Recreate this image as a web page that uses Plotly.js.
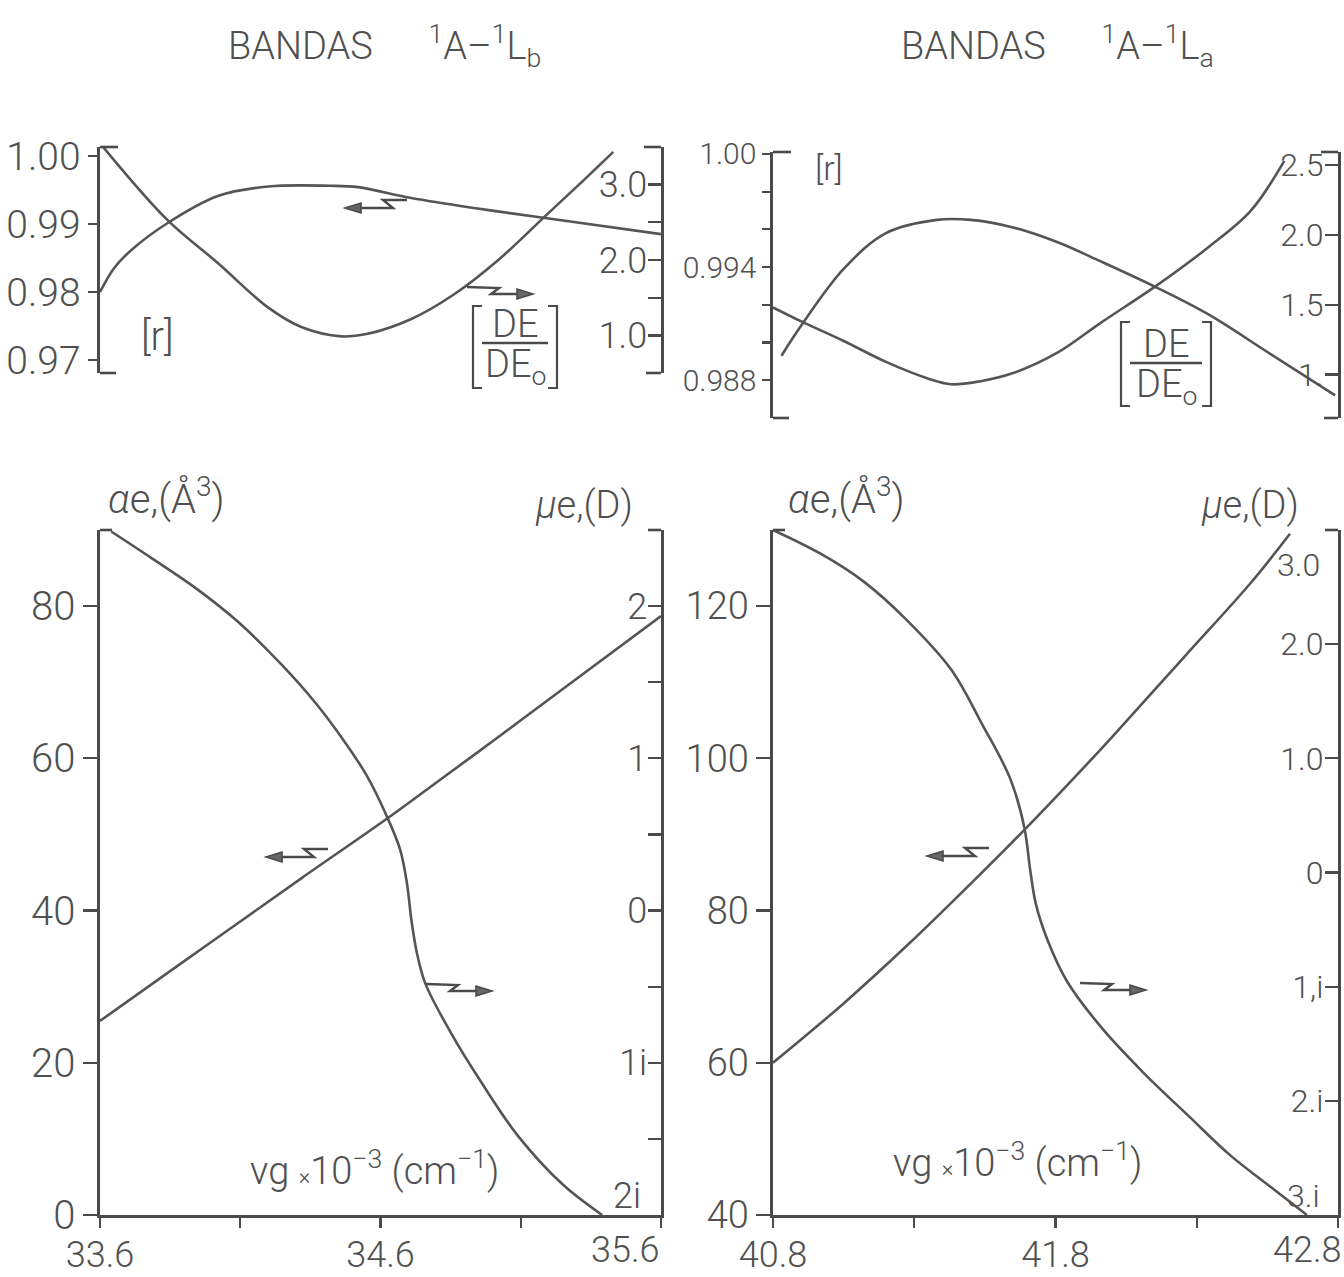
<!DOCTYPE html>
<html>
<head>
<meta charset="utf-8">
<script src="https://cdn.plot.ly/plotly-3.0.1.min.js"></script>
<style>
  html, body { margin: 0; padding: 0; background: #ffffff; }
  #chart { width: 1344px; height: 1277px; }
</style>
</head>
<body>
<div id="chart"></div>
<script>
// ---- Banda 1A-1Lb (nu_g in 10^3 cm^-1) ----
const lbRX   = [33.60, 33.65, 33.71, 33.84, 34.02, 34.20, 34.42, 34.52, 34.71, 34.94, 35.20, 35.60];
const lbR    = [0.9800, 0.9835, 0.9861, 0.9901, 0.9941, 0.9955, 0.9956, 0.9954, 0.9938, 0.9923, 0.9908, 0.9885];
const lbDEX  = [33.61, 33.84, 34.02, 34.20, 34.32, 34.46, 34.55, 34.71, 34.86, 35.02, 35.19, 35.32, 35.43];
const lbDE   = [3.50, 2.53, 1.96, 1.37, 1.11, 0.99, 1.02, 1.22, 1.54, 2.00, 2.59, 3.04, 3.43];
const lbAlphaX = [33.60, 33.86, 34.09, 34.32, 34.62, 34.78, 35.02, 35.25, 35.60];
const lbAlpha  = [25.5, 32.3, 38.3, 44.3, 52.0, 56.3, 62.8, 69.1, 78.7];
const lbMuX  = [33.64, 33.78, 33.94, 34.09, 34.25, 34.37, 34.46, 34.55, 34.62, 34.67, 34.695, 34.71, 34.73, 34.76, 34.85, 34.96, 35.09, 35.25, 35.39];
const lbMu   = [2.49, 2.32, 2.12, 1.90, 1.61, 1.36, 1.14, 0.89, 0.63, 0.40, 0.17, -0.06, -0.28, -0.48, -0.80, -1.13, -1.48, -1.80, -2.00];

// ---- Banda 1A-1La ----
const laRX   = [40.83, 40.90, 41.05, 41.20, 41.38, 41.50, 41.65, 41.81, 41.96, 42.16, 42.34, 42.56, 42.79];
const laR    = [0.9893, 0.9909, 0.9939, 0.9958, 0.9965, 0.9965, 0.9961, 0.9953, 0.9943, 0.9929, 0.9915, 0.9894, 0.9872];
const laDEX  = [40.80, 40.90, 41.05, 41.20, 41.35, 41.43, 41.53, 41.65, 41.81, 41.96, 42.16, 42.34, 42.49, 42.61];
const laDE   = [1.48, 1.38, 1.24, 1.09, 0.97, 0.93, 0.95, 1.01, 1.16, 1.37, 1.64, 1.91, 2.17, 2.53];
const laAlphaX = [40.80, 41.05, 41.28, 41.51, 41.69, 41.86, 42.00, 42.26, 42.49, 42.63];
const laAlpha  = [60.0, 67.8, 75.6, 83.9, 90.6, 97.2, 102.8, 113.5, 123.0, 129.5];
const laMuX  = [40.80, 40.97, 41.12, 41.27, 41.43, 41.54, 41.64, 41.69, 41.71, 41.73, 41.77, 41.84, 41.96, 42.11, 42.27, 42.42, 42.57, 42.69];
const laMu   = [3.00, 2.79, 2.55, 2.22, 1.78, 1.30, 0.82, 0.39, 0.03, -0.27, -0.58, -0.95, -1.35, -1.75, -2.13, -2.48, -2.77, -3.00];

// ---- tick labels ----
const lbNuTicks = [33.6, 34.1, 34.6, 35.1, 35.6];
const lbNuText  = ['33.6', '', '34.6', '', '35.6'];
const laNuTicks = [40.8, 41.3, 41.8, 42.3, 42.8];
const laNuText  = ['40.8', '', '41.8', '', '42.8'];
const lbRTicks  = [0.97, 0.98, 0.99, 1.00];
const lbRText   = ['0.97', '0.98', '0.99', '1.00'];
const lbDETicks = [1.0, 1.5, 2.0, 2.5, 3.0];
const lbDEText  = ['1.0', '', '2.0', '', '3.0'];
const laRTicks  = [0.988, 0.990, 0.992, 0.994, 0.996, 0.998, 1.000];
const laRText   = ['0.988', '', '', '0.994', '', '', '1.00'];
const laDETicks = [1.0, 1.5, 2.0, 2.5];
const laDEText  = ['1.', '1.5', '2.0', '2.5'];
const lbAlphaTicks = [0, 20, 40, 60, 80];
const lbAlphaText  = ['0', '20', '40', '60', '80'];
const lbMuTicks = [-2, -1.5, -1, -0.5, 0, 0.5, 1, 1.5, 2];
const lbMuText  = ['2i', '', '1i', '', '0', '', '1', '', '2'];
const laAlphaTicks = [40, 60, 80, 100, 120];
const laAlphaText  = ['40', '60', '80', '100', '120'];
const laMuTicks = [-3, -2, -1, 0, 1, 2, 3];
const laMuText  = ['3.i', '2.i', '1,i', '0', '1.0', '2.0', '3.0'];

// ---- page geometry (pixels) ----
const W = 1344, H = 1277;
const INK = '#4a4a4a';
const TXT = '#505050';
const FONT = 'Roboto, "Liberation Sans", Arial, sans-serif';
const px = v => v / W;
const py = v => 1 - v / H;

const LEFT_X  = [100, 661];
const RIGHT_X = [773, 1338];
const TL_Y = [147, 373];
const TR_Y = [152, 418];
const BOT_Y = [530, 1215];

const dom = (a) => [px(a[0]), px(a[1])];
const domY = (a) => [py(a[1]), py(a[0])];

function curve(x, y, xa, ya) {
  return {
    x: x, y: y, xaxis: xa, yaxis: ya, type: 'scatter', mode: 'lines',
    line: { color: '#555555', width: 2.6, shape: 'spline', smoothing: 1.0 },
    hoverinfo: 'skip', showlegend: false
  };
}

const traces = [
  curve(lbRX, lbR, 'x', 'y'),
  curve(lbDEX, lbDE, 'x', 'y2'),
  curve(lbAlphaX, lbAlpha, 'x2', 'y3'),
  curve(lbMuX, lbMu, 'x2', 'y4'),
  curve(laRX, laR, 'x3', 'y5'),
  curve(laDEX, laDE, 'x3', 'y6'),
  curve(laAlphaX, laAlpha, 'x4', 'y7'),
  curve(laMuX, laMu, 'x4', 'y8')
];

// tick label lists with the end labels that are placed by hand left blank
const blankAt = (arr, i) => arr.map((t, k) => (k === i ? '' : t));

function yLeft(domain, range, tv, tt, size, anchor, len) {
  return {
    domain: domY(domain), range: range, anchor: anchor,
    tickmode: 'array', tickvals: tv, ticktext: tt,
    ticks: 'outside', ticklen: len || 12, tickwidth: 2.2, tickcolor: INK,
    ticklabeloverflow: 'allow',
    showline: true, linecolor: INK, linewidth: 2.6,
    showgrid: false, zeroline: false,
    tickfont: { family: FONT, size: size, color: TXT, weight: 300 }
  };
}
function yRight(domain, range, tv, tt, size, anchor, over) {
  return {
    domain: domY(domain), range: range, anchor: anchor, overlaying: over, side: 'right',
    tickmode: 'array', tickvals: tv, ticktext: tt,
    ticks: 'inside', ticklen: 13, tickwidth: 2.2, tickcolor: INK,
    ticklabelposition: 'inside', ticklabeloverflow: 'allow', ticklabelstandoff: 5,
    showline: true, linecolor: INK, linewidth: 2.6,
    showgrid: false, zeroline: false,
    tickfont: { family: FONT, size: size, color: TXT, weight: 300 }
  };
}
function xHidden(domain, range, anchor) {
  return { domain: dom(domain), range: range, anchor: anchor, visible: false };
}
function xBottom(domain, range, tv, tt, anchor) {
  return {
    domain: dom(domain), range: range, anchor: anchor,
    tickmode: 'array', tickvals: tv, ticktext: tt,
    ticks: 'outside', ticklen: 10, tickwidth: 2.2, tickcolor: INK,
    ticklabeloverflow: 'allow', ticklabelstandoff: -4,
    showline: true, linecolor: INK, linewidth: 3,
    showgrid: false, zeroline: false,
    tickfont: { family: FONT, size: 36, color: TXT, weight: 300 }
  };
}

// bracket ends, zigzag arrows and the DE/DEo bracket labels
const shapes = [];
function seg(x0, y0, x1, y1, w) {
  shapes.push({ type: 'line', xref: 'paper', yref: 'paper',
    x0: px(x0), y0: py(y0), x1: px(x1), y1: py(y1),
    line: { color: INK, width: w || 2.6 } });
}
function poly(pts, closed, fill, w) {
  const d = 'M ' + pts.map(p => px(p[0]).toFixed(5) + ',' + py(p[1]).toFixed(5)).join(' L ') + (closed ? ' Z' : '');
  shapes.push({ type: 'path', xref: 'paper', yref: 'paper', path: d,
    line: { color: INK, width: w || 2 }, fillcolor: fill || 'rgba(0,0,0,0)' });
}
function arrowLeft(tx, ty) {
  poly([[tx + 62, ty - 8], [tx + 38, ty - 8], [tx + 48, ty], [tx + 12, ty]], false, null, 2.4);
  poly([[tx, ty], [tx + 16, ty - 5], [tx + 16, ty + 5]], true, '#666666', 1.6);
}
function arrowRight(tx, ty) {
  poly([[tx - 66, ty - 7], [tx - 34, ty - 6], [tx - 42, ty], [tx - 12, ty]], false, null, 2.4);
  poly([[tx, ty], [tx - 16, ty - 5], [tx - 16, ty + 5]], true, '#666666', 1.6);
}
function fracBracket(x0, x1, y0, y1, ybar) {
  poly([[x0 + 9, y0], [x0, y0], [x0, y1], [x0 + 9, y1]], false, null, 2.2);
  poly([[x1 - 9, y0], [x1, y0], [x1, y1], [x1 - 9, y1]], false, null, 2.2);
  seg(x0 + 9, ybar, x1 - 9, ybar, 2.4);
}

// top-left panel brackets
seg(100, 147, 118, 147); seg(100, 373, 116, 373);
seg(644, 147, 661, 147); seg(646, 373, 661, 373);
// top-right panel brackets
seg(773, 152, 791, 152); seg(773, 418, 789, 418);
seg(1321, 152, 1338, 152); seg(1324, 418, 1338, 418);
// lower panels top ends
seg(100, 530, 112, 530); seg(648, 530, 661, 530);
seg(773, 530, 785, 530); seg(1325, 530, 1338, 530);

arrowLeft(345, 208);  arrowRight(533, 294);
arrowLeft(266, 857);  arrowRight(492, 991);
arrowLeft(927, 856);  arrowRight(1146, 990);

fracBracket(473, 557, 306, 388, 343);
fracBracket(1121, 1211, 322, 406, 363);

function note(text, x, y, size, xanchor) {
  return { text: text, xref: 'paper', yref: 'paper', x: px(x), y: py(y),
    xanchor: xanchor || 'center', yanchor: 'middle', showarrow: false,
    font: { family: FONT, size: size, color: TXT, weight: 300 } };
}
const NB = '\u00A0';
const GAP = NB.repeat(6);
const annotations = [
  note('BANDAS' + GAP + '<sup>1</sup>A\u2013<sup>1</sup>L<sub>b</sub>', 384, 46, 38),
  note('BANDAS' + GAP + '<sup>1</sup>A\u2013<sup>1</sup>L<sub>a</sub>', 1057, 46, 38),
  note('[r]', 157, 336, 40),
  note('[r]', 829, 168, 34),
  note('DE', 515, 324, 38),
  note('DE<sub>o</sub>', 515, 366, 38),
  note('DE', 1166, 344, 38),
  note('DE<sub>o</sub>', 1166, 386, 38),
  note('<i>α</i>e,(Å<sup>3</sup>)', 166, 496, 40),
  note('<i>μ</i>e,(D)', 584, 505, 38),
  note('<i>α</i>e,(Å<sup>3</sup>)', 846, 496, 40),
  note('<i>μ</i>e,(D)', 1250, 505, 38),
  note('νg <span style="font-size:22px">×</span>10<sup>−3</sup> (cm<sup>−1</sup>)', 374, 1168, 38),
  note('νg <span style="font-size:22px">×</span>10<sup>−3</sup> (cm<sup>−1</sup>)', 1017, 1160, 38),
  // end labels sitting inside the corners
  note(lbNuText[4], 662, 1250, 36, 'right'),
  note(laNuText[4], 1344, 1250, 36, 'right'),
  note(lbMuText[0], 643, 1196, 36, 'right'),
  note(laMuText[0], 1322, 1196, 32, 'right'),
  note(laMuText[6], 1322, 565, 32, 'right')
];

const layout = {
  width: W, height: H,
  margin: { l: 0, r: 0, t: 0, b: 0, pad: 0 },
  paper_bgcolor: '#ffffff', plot_bgcolor: 'rgba(0,0,0,0)',
  showlegend: false,
  xaxis:  xHidden(LEFT_X, [33.6, 35.6], 'y'),
  yaxis:  yLeft(TL_Y, [0.9681, 1.0013], lbRTicks, lbRText, 39, 'x', 9),
  yaxis2: yRight(TL_Y, [0.505, 3.495], lbDETicks, lbDEText, 36, 'x', 'y'),
  xaxis2: xBottom(LEFT_X, [33.6, 35.6], lbNuTicks, blankAt(lbNuText, 4), 'y3'),
  yaxis3: yLeft(BOT_Y, [0, 90], lbAlphaTicks, lbAlphaText, 40, 'x2', 14),
  yaxis4: yRight(BOT_Y, [-2, 2.5], lbMuTicks, blankAt(lbMuText, 0), 36, 'x2', 'y3'),
  xaxis3: xHidden(RIGHT_X, [40.8, 42.8], 'y5'),
  yaxis5: yLeft(TR_Y, [0.9860, 1.0001], laRTicks, laRText, 30, 'x3', 8),
  yaxis6: yRight(TR_Y, [0.688, 2.594], laDETicks, laDEText, 32, 'x3', 'y5'),
  xaxis4: xBottom(RIGHT_X, [40.8, 42.8], laNuTicks, blankAt(laNuText, 4), 'y7'),
  yaxis7: yLeft(BOT_Y, [40, 130], laAlphaTicks, laAlphaText, 38, 'x4', 14),
  yaxis8: yRight(BOT_Y, [-3, 3], laMuTicks, blankAt(blankAt(laMuText, 0), 6), 32, 'x4', 'y7'),
  shapes: shapes,
  annotations: annotations
};

Plotly.newPlot('chart', traces, layout, { staticPlot: true, displayModeBar: false });
</script>
</body>
</html>
